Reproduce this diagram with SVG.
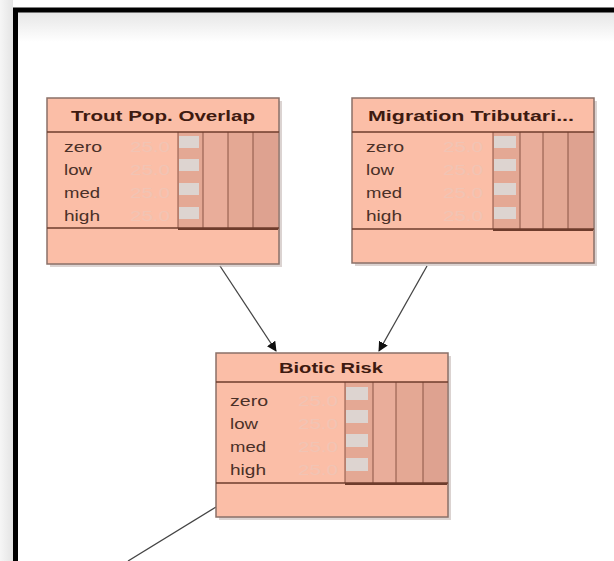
<svg xmlns="http://www.w3.org/2000/svg" width="614" height="561" viewBox="0 0 614 561">
<defs>
<linearGradient id="topfade" x1="0" y1="0" x2="0" y2="1">
<stop offset="0" stop-color="#e6e6e6"/><stop offset="1" stop-color="#ffffff"/>
</linearGradient>
<linearGradient id="leftfade" x1="0" y1="0" x2="1" y2="0">
<stop offset="0" stop-color="#f6f6f6"/><stop offset="1" stop-color="#e4e4e4"/>
</linearGradient>
<marker id="arr" viewBox="0 0 10 10" refX="9" refY="5" markerWidth="10" markerHeight="10" orient="auto" markerUnits="userSpaceOnUse">
<path d="M0,0 L10,5 L0,10 z" fill="#111"/>
</marker>
</defs>
<style>
.box{fill:#fbbea7;stroke:#8a7068;stroke-width:1.5}
.shadow{fill:#b8a8a4;opacity:0.5}
.sep{stroke:#6e3c2c;stroke-width:1.5}
.bars{fill:#e4a894}
.col{stroke:#8a5444;stroke-width:1}
.pbar{fill:#ddd4d0}
.title{font-family:"Liberation Sans",Arial,sans-serif;font-size:15px;font-weight:bold;fill:#3e1a10;text-anchor:middle}
.lbl{font-family:"Liberation Sans",Arial,sans-serif;font-size:15px;fill:#4a3028}
.val{font-family:"Liberation Sans",Arial,sans-serif;font-size:15px;fill:#f1c4b4}
.edge{stroke:#444;stroke-width:1.3;fill:none}
</style>
<rect x="0" y="0" width="614" height="561" fill="#ffffff"/>
<rect x="0" y="0" width="13" height="561" fill="url(#leftfade)"/>
<rect x="18" y="12" width="596" height="30" fill="url(#topfade)"/>
<path d="M15.5,561 L15.5,10 L614,10" fill="none" stroke="#000" stroke-width="5"/>

<g id="connectors">
<line class="edge" x1="220" y1="266" x2="276" y2="351" marker-end="url(#arr)"/>
<line class="edge" x1="427" y1="266" x2="379" y2="351" marker-end="url(#arr)"/>
<line class="edge" x1="216" y1="507" x2="128" y2="561"/>
</g>

<g id="trout">
<rect class="shadow" x="50" y="101" width="232" height="166"/>
<rect class="box" x="47" y="98" width="232" height="166"/>
<rect x="178" y="132" width="100" height="96" class="bars"/>
<rect x="203" y="132" width="25" height="96" fill="#e9ad9a"/>
<rect x="253" y="132" width="25" height="96" fill="#dea290"/>
<rect class="pbar" x="179" y="136" width="20" height="12"/>
<rect class="pbar" x="179" y="159" width="20" height="12"/>
<rect class="pbar" x="179" y="183" width="20" height="12"/>
<rect class="pbar" x="179" y="207" width="20" height="12"/>
<line class="col" x1="178" y1="132" x2="178" y2="228"/>
<line class="col" x1="203" y1="132" x2="203" y2="228"/>
<line class="col" x1="228" y1="132" x2="228" y2="228"/>
<line class="col" x1="253" y1="132" x2="253" y2="228"/>
<line class="sep" x1="47" y1="132" x2="279" y2="132"/>
<line class="sep" x1="47" y1="228" x2="279" y2="228"/>
<line x1="178" y1="229" x2="278" y2="229" stroke="#6e3c2c" stroke-width="2"/>
<text class="title" x="163" y="121" textLength="184" lengthAdjust="spacingAndGlyphs">Trout Pop. Overlap</text>
<text class="lbl" x="64" y="152" textLength="38" lengthAdjust="spacingAndGlyphs">zero</text>
<text class="lbl" x="64" y="175" textLength="28" lengthAdjust="spacingAndGlyphs">low</text>
<text class="lbl" x="64" y="198" textLength="36" lengthAdjust="spacingAndGlyphs">med</text>
<text class="lbl" x="64" y="221" textLength="36" lengthAdjust="spacingAndGlyphs">high</text>
<text class="val" x="130" y="152" textLength="40" lengthAdjust="spacingAndGlyphs">25.0</text>
<text class="val" x="130" y="175" textLength="40" lengthAdjust="spacingAndGlyphs">25.0</text>
<text class="val" x="130" y="198" textLength="40" lengthAdjust="spacingAndGlyphs">25.0</text>
<text class="val" x="130" y="221" textLength="40" lengthAdjust="spacingAndGlyphs">25.0</text>
</g>

<g id="migration">
<rect class="shadow" x="355" y="101" width="242" height="165"/>
<rect class="box" x="352" y="98" width="242" height="165"/>
<rect x="493" y="132" width="100" height="97" class="bars"/>
<rect x="520" y="132" width="23" height="97" fill="#e9ad9a"/>
<rect x="568" y="132" width="25" height="97" fill="#dea290"/>
<rect class="pbar" x="494" y="136" width="22" height="12"/>
<rect class="pbar" x="494" y="159" width="22" height="12"/>
<rect class="pbar" x="494" y="183" width="22" height="12"/>
<rect class="pbar" x="494" y="207" width="22" height="12"/>
<line class="col" x1="493" y1="132" x2="493" y2="229"/>
<line class="col" x1="520" y1="132" x2="520" y2="229"/>
<line class="col" x1="543" y1="132" x2="543" y2="229"/>
<line class="col" x1="568" y1="132" x2="568" y2="229"/>
<line class="sep" x1="352" y1="132" x2="594" y2="132"/>
<line class="sep" x1="352" y1="229" x2="594" y2="229"/>
<line x1="493" y1="230" x2="593" y2="230" stroke="#6e3c2c" stroke-width="2"/>
<text class="title" x="471" y="121" textLength="206" lengthAdjust="spacingAndGlyphs">Migration Tributari...</text>
<text class="lbl" x="366" y="152" textLength="38" lengthAdjust="spacingAndGlyphs">zero</text>
<text class="lbl" x="366" y="175" textLength="28" lengthAdjust="spacingAndGlyphs">low</text>
<text class="lbl" x="366" y="198" textLength="36" lengthAdjust="spacingAndGlyphs">med</text>
<text class="lbl" x="366" y="221" textLength="36" lengthAdjust="spacingAndGlyphs">high</text>
<text class="val" x="443" y="152" textLength="40" lengthAdjust="spacingAndGlyphs">25.0</text>
<text class="val" x="443" y="175" textLength="40" lengthAdjust="spacingAndGlyphs">25.0</text>
<text class="val" x="443" y="198" textLength="40" lengthAdjust="spacingAndGlyphs">25.0</text>
<text class="val" x="443" y="221" textLength="40" lengthAdjust="spacingAndGlyphs">25.0</text>
</g>

<g id="biotic">
<rect class="shadow" x="219" y="356" width="232" height="164"/>
<rect class="box" x="216" y="353" width="232" height="164"/>
<rect x="345" y="382" width="102" height="101" class="bars"/>
<rect x="373" y="382" width="23" height="101" fill="#e9ad9a"/>
<rect x="423" y="382" width="24" height="101" fill="#dea290"/>
<rect class="pbar" x="346" y="387" width="22" height="13"/>
<rect class="pbar" x="346" y="410" width="22" height="13"/>
<rect class="pbar" x="346" y="434" width="22" height="13"/>
<rect class="pbar" x="346" y="458" width="22" height="13"/>
<line class="col" x1="345" y1="382" x2="345" y2="483"/>
<line class="col" x1="373" y1="382" x2="373" y2="483"/>
<line class="col" x1="396" y1="382" x2="396" y2="483"/>
<line class="col" x1="423" y1="382" x2="423" y2="483"/>
<line class="sep" x1="216" y1="382" x2="448" y2="382"/>
<line class="sep" x1="216" y1="483" x2="448" y2="483"/>
<line x1="345" y1="484" x2="447" y2="484" stroke="#6e3c2c" stroke-width="2"/>
<text class="title" x="331" y="373" textLength="104" lengthAdjust="spacingAndGlyphs">Biotic Risk</text>
<text class="lbl" x="230" y="406" textLength="38" lengthAdjust="spacingAndGlyphs">zero</text>
<text class="lbl" x="230" y="429" textLength="28" lengthAdjust="spacingAndGlyphs">low</text>
<text class="lbl" x="230" y="452" textLength="36" lengthAdjust="spacingAndGlyphs">med</text>
<text class="lbl" x="230" y="475" textLength="36" lengthAdjust="spacingAndGlyphs">high</text>
<text class="val" x="298" y="406" textLength="40" lengthAdjust="spacingAndGlyphs">25.0</text>
<text class="val" x="298" y="429" textLength="40" lengthAdjust="spacingAndGlyphs">25.0</text>
<text class="val" x="298" y="452" textLength="40" lengthAdjust="spacingAndGlyphs">25.0</text>
<text class="val" x="298" y="475" textLength="40" lengthAdjust="spacingAndGlyphs">25.0</text>
</g>
</svg>
